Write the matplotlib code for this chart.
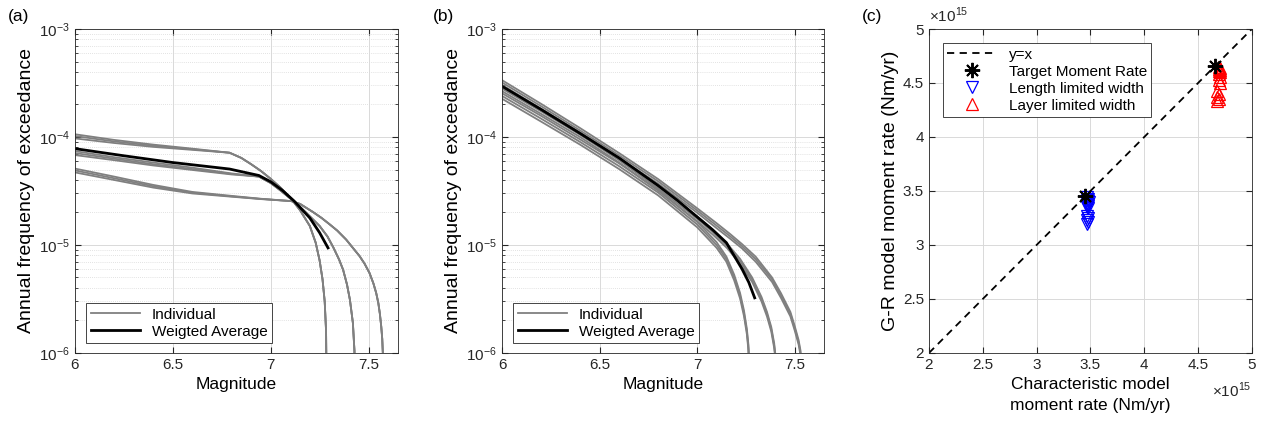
"""Recreate the three-panel exceedance / moment-rate figure."""

import matplotlib

matplotlib.use("Agg")
import matplotlib.pyplot as plt

plt.rcParams["font.family"] = ["Liberation Sans", "DejaVu Sans"]
plt.rcParams["mathtext.fontset"] = "custom"
plt.rcParams["mathtext.rm"] = "Liberation Sans"

# ---------------- panel (a): characteristic model ----------------
# three families of curves (kink at different magnitudes), 3 lines each
a_g1_mag = [6.0, 6.2, 6.4, 6.6, 6.79, 6.85, 6.9, 6.95, 7.0, 7.05, 7.1, 7.15,
            7.2, 7.23, 7.25, 7.265, 7.276, 7.283, 7.286]
a_g1_tail = [6.4e-5, 5.6e-5, 4.85e-5, 4.1e-5, 3.4e-5, 2.75e-5, 2.1e-5,
             1.5e-5, 1.05e-5, 7.2e-6, 4.8e-6, 3.0e-6, 1.6e-6, 4e-7]
a_g1_heads = [[1.06e-4, 9.4e-5, 8.5e-5, 7.8e-5, 7.15e-5],
              [1.02e-4, 9.1e-5, 8.3e-5, 7.7e-5, 7.15e-5],
              [9.7e-5, 8.8e-5, 8.1e-5, 7.6e-5, 7.15e-5]]

a_g2_mag = [6.0, 6.2, 6.4, 6.6, 6.8, 6.94, 7.0, 7.05, 7.1, 7.15, 7.18, 7.25,
            7.29, 7.32, 7.35, 7.37, 7.39, 7.405, 7.42, 7.428, 7.431]
a_g2_tail = [3.75e-5, 3.2e-5, 2.7e-5, 2.25e-5, 2.0e-5, 1.5e-5, 1.2e-5,
             9.5e-6, 7.3e-6, 5.9e-6, 4.3e-6, 3.1e-6, 1.9e-6, 1.05e-6, 4e-7]
a_g2_heads = [[7.4e-5, 6.5e-5, 5.8e-5, 5.2e-5, 4.6e-5, 4.3e-5],
              [7.1e-5, 6.3e-5, 5.6e-5, 5.05e-5, 4.55e-5, 4.3e-5],
              [6.8e-5, 6.1e-5, 5.45e-5, 4.95e-5, 4.5e-5, 4.3e-5]]

a_g3_mag = [6.0, 6.2, 6.4, 6.6, 6.8, 6.95, 7.105, 7.15, 7.216, 7.26, 7.30,
            7.34, 7.386, 7.42, 7.454, 7.48, 7.505, 7.525, 7.539, 7.55, 7.558,
            7.565, 7.57, 7.573, 7.575]
a_g3_tail = [2.4e-5, 2.02e-5, 1.78e-5, 1.56e-5, 1.36e-5, 1.12e-5, 9.4e-6,
             7.9e-6, 6.7e-6, 5.5e-6, 4.4e-6, 3.6e-6, 2.9e-6, 2.3e-6, 1.75e-6,
             1.35e-6, 1.0e-6, 4e-7]
a_g3_heads = [[5.1e-5, 4.3e-5, 3.6e-5, 3.1e-5, 2.85e-5, 2.68e-5, 2.55e-5],
              [4.9e-5, 4.15e-5, 3.5e-5, 3.05e-5, 2.82e-5, 2.67e-5, 2.55e-5],
              [4.7e-5, 4.0e-5, 3.4e-5, 3.0e-5, 2.8e-5, 2.66e-5, 2.55e-5]]

a_avg_mag = [6.0, 6.25, 6.5, 6.79, 6.94, 7.0, 7.06, 7.12, 7.2, 7.25, 7.293]
a_avg_val = [7.8e-5, 6.7e-5, 5.8e-5, 5.05e-5, 4.4e-5, 3.85e-5, 3.2e-5,
             2.55e-5, 1.78e-5, 1.3e-5, 9.4e-6]

# ---------------- panel (b): G-R model ----------------
b_L_mag = [6.0, 6.2, 6.4, 6.6, 6.8, 7.0, 7.1, 7.15, 7.19, 7.22, 7.24, 7.255,
           7.263, 7.268]
b_L_lines = [[2.54e-4, 1.57e-4, 9.5e-5, 5.7e-5, 3.25e-5, 1.64e-5, 1.06e-5, 7.8e-6, 5.3e-6, 3.6e-6, 2.48e-6, 1.67e-6, 1.19e-6, 6.7e-7],
             [2.4e-4, 1.48e-4, 9.0e-5, 5.37e-5, 3.06e-5, 1.55e-5, 1.0e-5, 7.4e-6, 5.0e-6, 3.4e-6, 2.34e-6, 1.58e-6, 1.12e-6, 6.3e-7],
             [2.26e-4, 1.39e-4, 8.5e-5, 5.05e-5, 2.88e-5, 1.46e-5, 9.4e-6, 7.0e-6, 4.7e-6, 3.2e-6, 2.2e-6, 1.49e-6, 1.05e-6, 5.9e-7]]

b_M_mag = [6.0, 6.2, 6.4, 6.6, 6.8, 7.0, 7.08, 7.155, 7.22, 7.282, 7.33, 7.358,
           7.38, 7.395, 7.402, 7.406]
b_M_lines = [[2.94e-4, 1.82e-4, 1.1e-4, 6.4e-5, 3.52e-5, 1.84e-5, 1.39e-5, 1.02e-5, 7.45e-6, 5.0e-6, 3.3e-6, 2.4e-6, 1.74e-6, 1.23e-6, 9.3e-7, 5.2e-7],
             [2.8e-4, 1.73e-4, 1.05e-4, 6.1e-5, 3.35e-5, 1.75e-5, 1.32e-5, 9.75e-6, 7.1e-6, 4.8e-6, 3.16e-6, 2.3e-6, 1.66e-6, 1.17e-6, 8.9e-7, 5e-7],
             [2.66e-4, 1.64e-4, 1.0e-4, 5.8e-5, 3.18e-5, 1.66e-5, 1.25e-5, 9.3e-6, 6.7e-6, 4.55e-6, 3.0e-6, 2.18e-6, 1.58e-6, 1.11e-6, 8.5e-7, 4.8e-7]]

b_R_mag = [6.0, 6.2, 6.4, 6.6, 6.8, 7.0, 7.1, 7.17, 7.23, 7.3, 7.384, 7.43,
           7.478, 7.5, 7.52, 7.53, 7.536]
b_R_lines = [[3.36e-4, 2.03e-4, 1.21e-4, 7.1e-5, 4.08e-5, 2.19e-5, 1.59e-5, 1.26e-5, 1.02e-5, 7.8e-6, 5.0e-6, 3.57e-6, 2.4e-6, 1.78e-6, 1.32e-6, 1.05e-6, 5.2e-7],
             [3.2e-4, 1.93e-4, 1.15e-4, 6.76e-5, 3.89e-5, 2.09e-5, 1.51e-5, 1.2e-5, 9.75e-6, 7.4e-6, 4.8e-6, 3.4e-6, 2.3e-6, 1.7e-6, 1.26e-6, 1.0e-6, 5e-7],
             [3.04e-4, 1.83e-4, 1.09e-4, 6.4e-5, 3.7e-5, 1.99e-5, 1.43e-5, 1.14e-5, 9.3e-6, 7.0e-6, 4.55e-6, 3.23e-6, 2.18e-6, 1.62e-6, 1.2e-6, 9.5e-7, 4.8e-7]]

b_avg_mag = [6.0, 6.2, 6.4, 6.6, 6.8, 6.9, 7.0, 7.08, 7.15, 7.23, 7.265, 7.295]
b_avg_val = [2.95e-4, 1.8e-4, 1.08e-4, 6.4e-5, 3.55e-5, 2.58e-5, 1.82e-5,
             1.38e-5, 1.05e-5, 6.0e-6, 4.5e-6, 3.24e-6]

# ---------------- panel (c): moment rates (x 1e15 Nm/yr) ----------------
target_x = [3.45, 4.66]
target_y = [3.45, 4.66]
length_x = [3.47, 3.48, 3.47, 3.48, 3.49, 3.47, 3.48, 3.47, 3.48, 3.47,
            3.48, 3.47, 3.48, 3.47, 3.48, 3.47]
length_y = [3.44, 3.43, 3.42, 3.41, 3.40, 3.39, 3.38, 3.37, 3.36, 3.35,
            3.34, 3.27, 3.25, 3.23, 3.21, 3.19]
layer_x = [4.69, 4.70, 4.69, 4.70, 4.69, 4.70, 4.69, 4.70, 4.69, 4.70,
           4.68, 4.69, 4.68, 4.69, 4.68]
layer_y = [4.65, 4.64, 4.63, 4.62, 4.61, 4.60, 4.58, 4.56, 4.53, 4.50,
           4.43, 4.40, 4.37, 4.35, 4.33]

GRAY = (0.5, 0.5, 0.5)
TICK_FS = 11
XLABEL_FS = 12.5
YLABEL_FS = 14


def matlab_axes(ax):
    ax.tick_params(direction="in", which="both", top=True, right=True,
                   labelsize=TICK_FS, colors="0.15", length=4)
    ax.tick_params(which="minor", length=2.5)
    for s in ax.spines.values():
        s.set_color("0.15")
        s.set_linewidth(0.6)
    ax.set_axisbelow(True)


def freq_panel(ax):
    ax.set_yscale("log")
    ax.set_xlim(6, 7.65)
    ax.set_ylim(1e-6, 1e-3)
    ax.set_xticks([6, 6.5, 7, 7.5])
    ax.set_xticklabels(["6", "6.5", "7", "7.5"])
    ax.grid(True, which="major", color="0.85", lw=0.7)
    ax.grid(True, which="minor", color="0.85", lw=0.6, ls=(0, (1, 1.5)))
    ax.set_xlabel("Magnitude", fontsize=XLABEL_FS)
    ax.set_ylabel("Annual frequency of exceedance", fontsize=YLABEL_FS,
                  labelpad=3)
    matlab_axes(ax)


fig = plt.figure(figsize=(12.68, 4.29), dpi=100)
ax_a = fig.add_axes([0.0591, 0.1772, 0.2547, 0.7552])
ax_b = fig.add_axes([0.3959, 0.1772, 0.2539, 0.7552])
ax_c = fig.add_axes([0.7326, 0.1772, 0.2547, 0.7552])

# panel (a)
for mags, heads, tail in [(a_g1_mag, a_g1_heads, a_g1_tail),
                          (a_g2_mag, a_g2_heads, a_g2_tail),
                          (a_g3_mag, a_g3_heads, a_g3_tail)]:
    for head in heads:
        ax_a.plot(mags, head + tail, color=GRAY, lw=1.3)
ax_a.plot(a_avg_mag, a_avg_val, color="k", lw=2.0)
freq_panel(ax_a)

# panel (b)
for mags, lines in [(b_L_mag, b_L_lines), (b_M_mag, b_M_lines), (b_R_mag, b_R_lines)]:
    for vals in lines:
        ax_b.plot(mags, vals, color=GRAY, lw=1.3)
ax_b.plot(b_avg_mag, b_avg_val, color="k", lw=2.0)
freq_panel(ax_b)

for ax in (ax_a, ax_b):
    h_ind = plt.Line2D([], [], color=GRAY, lw=1.3)
    h_avg = plt.Line2D([], [], color="k", lw=2.0)
    leg = ax.legend([h_ind, h_avg], ["Individual", "Weigted Average"],
                    loc="lower left", bbox_to_anchor=(0.035, 0.03),
                    fontsize=TICK_FS, fancybox=False, framealpha=1,
                    edgecolor="0.15", borderaxespad=0, handlelength=3.2,
                    labelspacing=0.2, borderpad=0.3)
    leg.get_frame().set_linewidth(0.6)

# panel (c)
ax_c.plot([2, 5], [2, 5], "k--", lw=1.3, dashes=(4, 3), label="y=x")
ax_c.plot(length_x, length_y, ls="none", marker="v", ms=9, mfc="none",
          mec="b", mew=0.9, label="Length limited width")
ax_c.plot(layer_x, layer_y, ls="none", marker="^", ms=9, mfc="none",
          mec="r", mew=0.9, label="Layer limited width")
ax_c.plot(target_x, target_y, ls="none", marker=(8, 2, 0), ms=11, color="k",
          mew=1.4, label="Target Moment Rate")
ax_c.set_xlim(2, 5)
ax_c.set_ylim(2, 5)
ticks = [2, 2.5, 3, 3.5, 4, 4.5, 5]
ax_c.set_xticks(ticks)
ax_c.set_yticks(ticks)
ax_c.set_xticklabels(["2", "2.5", "3", "3.5", "4", "4.5", "5"])
ax_c.set_yticklabels(["2", "2.5", "3", "3.5", "4", "4.5", "5"])
ax_c.grid(True, color="0.85", lw=0.7)
ax_c.set_xlabel("Characteristic model\nmoment rate (Nm/yr)", fontsize=XLABEL_FS,
                linespacing=1.5)
ax_c.set_ylabel("G-R model moment rate (Nm/yr)", fontsize=YLABEL_FS,
                labelpad=3)
matlab_axes(ax_c)
hs, ls_ = ax_c.get_legend_handles_labels()
order = [0, 3, 1, 2]
leg = ax_c.legend([hs[i] for i in order], [ls_[i] for i in order],
                  loc="upper left", bbox_to_anchor=(0.043, 0.957),
                  fontsize=TICK_FS, fancybox=False, framealpha=1,
                  edgecolor="0.15", borderaxespad=0, handlelength=3.2,
                  labelspacing=0.2, borderpad=0.3)
leg.get_frame().set_linewidth(0.6)
ax_c.text(0.0, 1.012, r"$\times10^{15}$", transform=ax_c.transAxes,
          fontsize=TICK_FS, ha="left", va="bottom", color="0.15")
ax_c.text(1.0, -0.085, r"$\times10^{15}$", transform=ax_c.transAxes,
          fontsize=TICK_FS, ha="right", va="top", color="0.15")

fig.text(0.006, 0.962, "(a)", fontsize=XLABEL_FS, va="center")
fig.text(0.341, 0.962, "(b)", fontsize=XLABEL_FS, va="center")
fig.text(0.680, 0.962, "(c)", fontsize=XLABEL_FS, va="center")

fig.savefig("out.png", dpi=100)
